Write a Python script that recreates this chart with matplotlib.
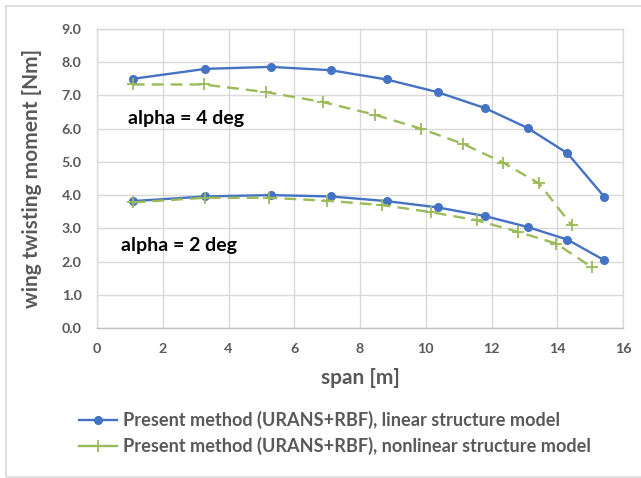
import matplotlib
matplotlib.use("Agg")
import matplotlib.pyplot as plt
from matplotlib.patches import Rectangle
from matplotlib.lines import Line2D

plt.rcParams['font.family'] = ['Lato', 'DejaVu Sans']

# Data
span_lin = [1.09, 3.30, 5.28, 7.11, 8.81, 10.36, 11.80, 13.10, 14.31, 15.43]
lin_a4 = [7.50, 7.80, 7.86, 7.76, 7.48, 7.10, 6.62, 6.02, 5.26, 3.95]
lin_a2 = [3.82, 3.96, 4.00, 3.96, 3.82, 3.63, 3.37, 3.04, 2.66, 2.04]

span_nl_a4 = [1.09, 3.24, 5.15, 6.88, 8.45, 9.85, 11.14, 12.35, 13.45, 14.44]
nl_a4 = [7.33, 7.33, 7.10, 6.80, 6.42, 6.00, 5.54, 4.98, 4.35, 3.09]
span_nl_a2 = [1.11, 3.27, 5.23, 7.00, 8.66, 10.15, 11.56, 12.82, 13.97, 15.05]
nl_a2 = [3.78, 3.92, 3.92, 3.83, 3.70, 3.49, 3.24, 2.89, 2.54, 1.83]

label_lin = "Present method (URANS+RBF), linear structure model"
label_nl = "Present method (URANS+RBF), nonlinear structure model"
xticks = [0, 2, 4, 6, 8, 10, 12, 14, 16]
yticks = [0, 1, 2, 3, 4, 5, 6, 7, 8, 9]

blue = "#4472C4"
green = "#9BBB59"
gray = "#595959"
grid = "#D9D9D9"

fig = plt.figure(figsize=(6.41, 4.78), dpi=100)
fig.patches.append(Rectangle((6/641, 1/478), 1.0, 1 - 7/478, transform=fig.transFigure,
                             fill=False, edgecolor=grid, linewidth=1.2))
ax = fig.add_axes([97/641, 1 - 328/478, (623 - 97)/641, (328 - 29)/478])

lw = 1.7
ax.plot(span_lin, lin_a4, color=blue, lw=lw, marker='o', ms=5.5, zorder=3)
ax.plot(span_nl_a4, nl_a4, color=green, lw=lw, ls=(0, (5, 3)), marker='+', ms=9, mew=1.3, zorder=3)
ax.plot(span_lin, lin_a2, color=blue, lw=lw, marker='o', ms=5.5, zorder=3)
ax.plot(span_nl_a2, nl_a2, color=green, lw=lw, ls=(0, (5, 3)), marker='+', ms=9, mew=1.3, zorder=3)

ax.set_xlim(0, 16)
ax.set_ylim(0, 9)
ax.set_xticks(xticks)
ax.set_yticks(yticks)
ax.set_xticklabels([str(v) for v in xticks])
ax.set_yticklabels([f"{v:.1f}" for v in yticks])
ax.grid(True, color=grid, lw=1.0)
ax.set_axisbelow(True)
for s in ax.spines.values():
    s.set_color(grid)
    s.set_linewidth(1.0)
ax.spines['bottom'].set_color("#BFBFBF")
ax.tick_params(length=0, labelsize=10.3, labelcolor=gray)
ax.tick_params(axis='y', pad=11)
ax.tick_params(axis='x', pad=11)
for t in ax.get_xticklabels() + ax.get_yticklabels():
    t.set_fontweight('bold')

ax.set_xlabel("span [m]", fontsize=15, fontweight='bold', color=gray, labelpad=9)
ax.set_ylabel("wing twisting moment [Nm]", fontsize=15, fontweight='bold', color=gray, labelpad=14)

ax.text(0.94, 6.3, "alpha = 4 deg", fontsize=14, fontweight='bold', color='black', va='center', ha='left')
ax.text(0.73, 2.48, "alpha = 2 deg", fontsize=14, fontweight='bold', color='black', va='center', ha='left')

handles = [Line2D([], [], color=blue, lw=lw, marker='o', ms=5.5),
           Line2D([], [], color=green, lw=lw, marker='+', ms=9, mew=1.3)]
leg = fig.legend(handles, [label_lin, label_nl], loc='upper left',
                 bbox_to_anchor=(79/641, 1 - 411/478), frameon=False,
                 fontsize=13.1, handlelength=2.1, handletextpad=0.3, labelspacing=0.44,
                 borderaxespad=0, borderpad=0)
for t in leg.get_texts():
    t.set_color(gray)
    t.set_fontweight('bold')

fig.savefig("out.png", dpi=100)
